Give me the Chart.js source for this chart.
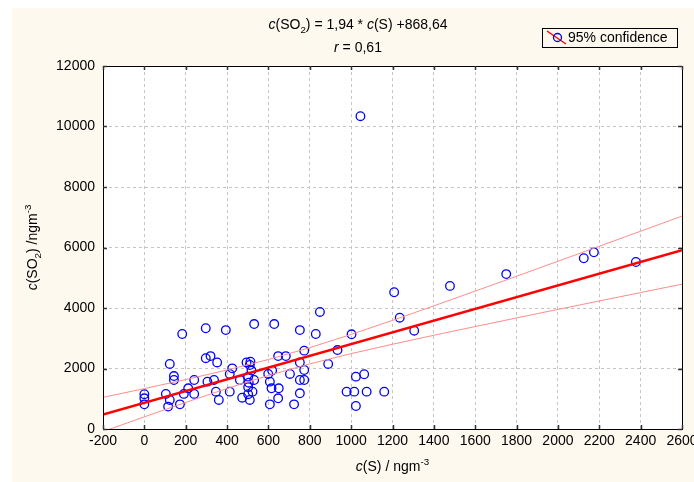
<!DOCTYPE html>
<html>
<head>
<meta charset="utf-8">
<script src="https://cdn.jsdelivr.net/npm/chart.js@4.4.0/dist/chart.umd.min.js"></script>
<style>
html, body { margin: 0; padding: 0; background: #fff; }
</style>
</head>
<body>
<canvas id="myChart" width="694" height="482"></canvas>
<script>
// measured S vs SO2 concentrations (ng/m3)
const sVals = [0, 0, 0, 183, 297, 123, 143, 143, 104, 123, 115, 172, 191, 212, 241, 241,
	297, 320, 352, 305, 337, 346, 360, 394, 531, 628, 752, 829, 849, 413, 425, 413,
	462, 473, 494, 513, 510, 518, 502, 531, 505, 502, 523, 502, 510, 599, 618, 647,
	684, 607, 615, 650, 647, 607, 724, 704, 752, 773, 752, 773, 773, 752, 1208, 1235,
	1305, 1002, 934, 889, 1023, 1063, 978, 1015, 1075, 1160, 1023, 1045, 1478, 1750,
	2125, 2174, 2377];
const so2Vals = [1150, 1015, 815, 3140, 3330, 2150, 1750, 1620, 1160, 960, 740, 815, 1160, 1345, 1620, 1160,
	2340, 2410, 2200, 1565, 1620, 1235, 960, 3270, 3470, 3470, 3270, 3140, 3870, 1820, 2005, 1235,
	1620, 1035, 2200, 2225, 2115, 1930, 1730, 1620, 1530, 1380, 1235, 1150, 960, 1820, 1930, 2410,
	2410, 1565, 1345, 1345, 1015, 815, 815, 1820, 2200, 2590, 1620, 1620, 1950, 1180, 4520, 3680,
	3250, 3130, 2610, 2150, 1730, 1810, 1235, 1235, 1235, 1235, 760, 10340, 4730, 5120,
	5645, 5840, 5520];

// fit: c(SO2) = 1,94 * c(S) + 868,64
const slope = 1.94;
const intercept = 868.64;
const fitX = [-200, 2600];

// 95% confidence band
const bandX = [-200, 0, 200, 400, 600, 800, 1000, 1200, 1400, 1600, 1800, 2000, 2200, 2400, 2600];
const bandUpper = [1046, 1335, 1634, 1950, 2297, 2689, 3126, 3591, 4070, 4558, 5050, 5545, 6041, 6539, 7038];
const bandLower = [-84, 402, 879, 1340, 1769, 2152, 2491, 2802, 3099, 3387, 3671, 3953, 4232, 4510, 4788];

const FONT = '"Liberation Sans", Arial, sans-serif';
const FS = 14;

const points = sVals.map((x, i) => ({ x: x, y: so2Vals[i] }));
const fitLine = fitX.map(x => ({ x: x, y: slope * x + intercept }));
const upper = bandX.map((x, i) => ({ x: x, y: bandUpper[i] }));
const lower = bandX.map((x, i) => ({ x: x, y: bandLower[i] }));

// draws a run of text pieces, some italic / sub / superscript
function richWidth(ctx, parts, size) {
	let w = 0;
	parts.forEach(p => {
		const s = (p.sub || p.sup) ? size * 0.7 : size;
		ctx.font = (p.it ? 'italic ' : '') + s + 'px ' + FONT;
		w += ctx.measureText(p.t).width;
	});
	return w;
}
function drawRich(ctx, parts, x, y, size) {
	let cx = x;
	ctx.textBaseline = 'alphabetic';
	ctx.textAlign = 'left';
	parts.forEach(p => {
		const s = (p.sub || p.sup) ? size * 0.7 : size;
		ctx.font = (p.it ? 'italic ' : '') + s + 'px ' + FONT;
		let dy = 0;
		if (p.sub) dy = size * 0.3;
		if (p.sup) dy = -size * 0.45;
		ctx.fillText(p.t, cx, y + dy);
		cx += ctx.measureText(p.t).width;
	});
}

const decor = {
	id: 'decor',
	beforeDraw(chart) {
		const ctx = chart.ctx;
		const a = chart.chartArea;
		ctx.save();
		ctx.fillStyle = '#fff';
		ctx.fillRect(0, 0, chart.width, chart.height);
		ctx.fillStyle = '#fdf9ef';
		ctx.fillRect(12, 8, chart.width - 12, chart.height - 8);
		ctx.fillStyle = '#fff';
		ctx.fillRect(a.left, a.top, a.right - a.left, a.bottom - a.top);
		ctx.restore();
	},
	afterDraw(chart) {
		const ctx = chart.ctx;
		const a = chart.chartArea;
		const xs = chart.scales.x, ys = chart.scales.y;
		ctx.save();
		// frame
		ctx.strokeStyle = '#000';
		ctx.lineWidth = 1;
		ctx.strokeRect(Math.round(a.left) + 0.5, Math.round(a.top) + 0.5,
			Math.round(a.right - a.left), Math.round(a.bottom - a.top));
		// inward tick marks
		ctx.strokeStyle = '#333';
		ctx.lineWidth = 1.5;
		ctx.beginPath();
		xs.ticks.forEach(t => {
			const px = Math.round(xs.getPixelForValue(t.value)) + 0.5;
			ctx.moveTo(px, a.bottom); ctx.lineTo(px, a.bottom - 4);
			ctx.moveTo(px, a.top); ctx.lineTo(px, a.top + 4);
		});
		ys.ticks.forEach(t => {
			const py = Math.round(ys.getPixelForValue(t.value)) + 0.5;
			ctx.moveTo(a.left, py); ctx.lineTo(a.left + 4, py);
			ctx.moveTo(a.right, py); ctx.lineTo(a.right - 4, py);
		});
		ctx.stroke();

		ctx.fillStyle = '#000';
		// equation + r above the plot (centred a bit left of the plot middle)
		const eq = [{ t: 'c', it: true }, { t: '(SO' }, { t: '2', sub: true }, { t: ') = 1,94 * ' },
			{ t: 'c', it: true }, { t: '(S) +868,64' }];
		const tx = 358;
		drawRich(ctx, eq, tx - richWidth(ctx, eq, FS) / 2, 29, FS);
		const rr = [{ t: 'r', it: true }, { t: ' = 0,61' }];
		drawRich(ctx, rr, tx - richWidth(ctx, rr, FS) / 2, 52, FS);

		// x axis title
		const cx = (a.left + a.right) / 2;
		const xt = [{ t: 'c', it: true }, { t: '(S) / ngm' }, { t: '-3', sup: true }];
		drawRich(ctx, xt, cx - richWidth(ctx, xt, FS) / 2, 471, FS);

		// y axis title, rotated
		const yt = [{ t: 'c', it: true }, { t: '(SO' }, { t: '2', sub: true }, { t: ') /ngm' }, { t: '-3', sup: true }];
		ctx.save();
		ctx.translate(37, (a.top + a.bottom) / 2);
		ctx.rotate(-Math.PI / 2);
		drawRich(ctx, yt, -richWidth(ctx, yt, FS) / 2, 0, FS);
		ctx.restore();

		// legend box
		ctx.strokeStyle = '#000';
		ctx.lineWidth = 1;
		ctx.strokeRect(542.5, 28.5, 135, 19);
		ctx.strokeStyle = '#ff0000';
		ctx.lineWidth = 1.5;
		ctx.beginPath();
		ctx.moveTo(547, 31); ctx.lineTo(566, 44);
		ctx.stroke();
		ctx.strokeStyle = '#0000ff';
		ctx.lineWidth = 1.3;
		ctx.beginPath();
		ctx.arc(557.5, 37.5, 4, 0, Math.PI * 2);
		ctx.stroke();
		ctx.fillStyle = '#000';
		ctx.font = FS + 'px ' + FONT;
		ctx.textBaseline = 'middle';
		ctx.fillText('95% confidence', 568, 38.5);
		ctx.restore();
	}
};

const plainTick = v => String(v);

const config = {
	type: 'scatter',
	data: {
		datasets: [
			{
				type: 'line',
				data: fitLine,
				borderColor: '#ff0000',
				borderWidth: 2.5,
				pointRadius: 0,
				fill: false,
				clip: 0,
				order: 0
			},
			{
				type: 'line',
				data: upper,
				borderColor: '#ff8c8c',
				borderWidth: 1,
				pointRadius: 0,
				tension: 0,
				fill: false,
				clip: 0,
				order: 1
			},
			{
				type: 'line',
				data: lower,
				borderColor: '#ff8c8c',
				borderWidth: 1,
				pointRadius: 0,
				tension: 0,
				fill: false,
				clip: 0,
				order: 1
			},
			{
				data: points,
				pointStyle: 'circle',
				pointRadius: 4.3,
				borderWidth: 1.3,
				borderColor: '#0000ff',
				backgroundColor: 'rgba(0,0,0,0)',
				order: 2
			}
		]
	},
	options: {
		responsive: false,
		animation: false,
		devicePixelRatio: 1,
		events: [],
		layout: { padding: { top: 66, right: 12, left: 0, bottom: 0 } },
		plugins: {
			legend: { display: false },
			tooltip: { enabled: false },
			title: { display: false }
		},
		scales: {
			x: {
				type: 'linear',
				min: -200,
				max: 2600,
				// last label runs off the edge, don't let it shrink the plot
				afterFit: s => { s.height = 53; s.paddingLeft = 0; s.paddingRight = 0; },
				ticks: { stepSize: 200, padding: 4, color: '#000', font: { family: FONT, size: FS }, callback: plainTick },
				grid: { color: '#c4c4c4', drawTicks: false, lineWidth: 1 },
				border: { display: false, dash: [3, 3] }
			},
			y: {
				type: 'linear',
				min: 0,
				max: 12000,
				afterFit: s => { s.width = 103; s.paddingTop = 0; s.paddingBottom = 0; },
				ticks: { stepSize: 2000, padding: 8, color: '#000', font: { family: FONT, size: FS }, callback: plainTick },
				grid: { color: '#c4c4c4', drawTicks: false, lineWidth: 1 },
				border: { display: false, dash: [3, 3] }
			}
		}
	},
	plugins: [decor]
};

const chart = new Chart(document.getElementById('myChart'), config);
</script>
</body>
</html>
